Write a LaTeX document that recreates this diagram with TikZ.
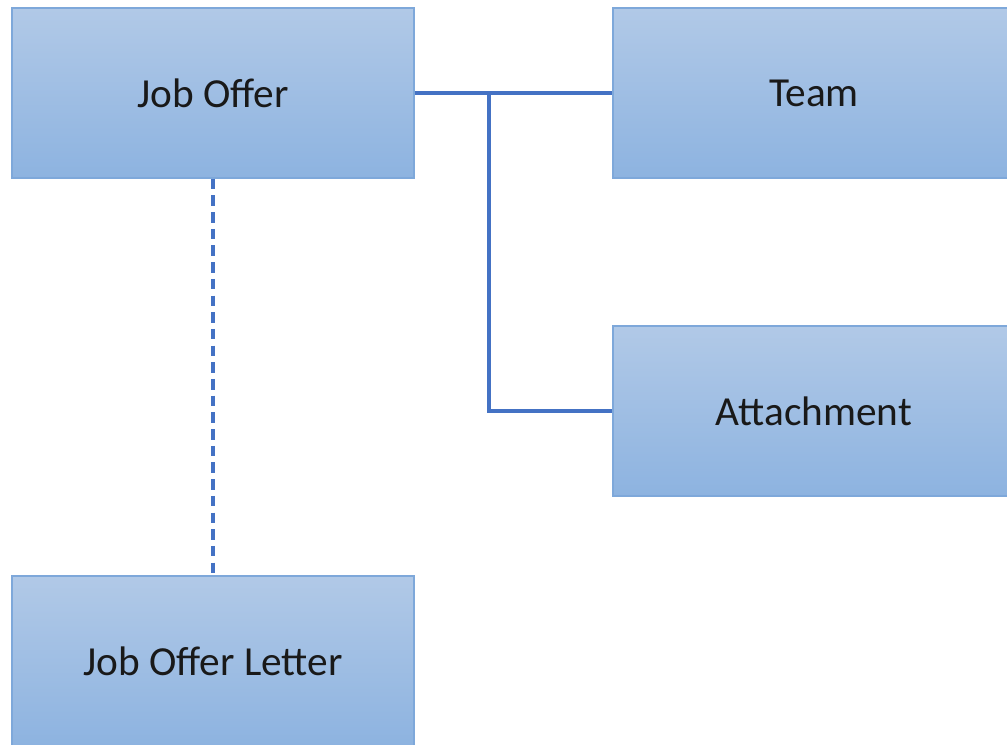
\documentclass[tikz,border=0pt]{standalone}
\usepackage{fontspec}
\setmainfont{Carlito}
\usepackage{tikz}
\usetikzlibrary{calc}
\definecolor{boxtop}{HTML}{B1C9E7}
\definecolor{boxbot}{HTML}{8DB3E0}
\definecolor{boxline}{HTML}{7EA8DA}
\definecolor{linkblue}{HTML}{4472C4}

\tikzset{
  entity/.style={draw=boxline, line width=0.8pt, top color=boxtop, bottom color=boxbot,
    minimum width=8.04cm, minimum height=3.4cm, inner sep=0pt,
    font=\fontsize{23.5}{28}\selectfont, text=black!90},
  link/.style={draw=linkblue, line width=2.2pt},
  dashlink/.style={draw=linkblue, line width=2.2pt, dash pattern=on 6pt off 3.5pt}
}

\begin{document}
\begin{tikzpicture}[x=0.02cm, y=-0.02cm]

%% Frame
\useasboundingbox (0,0) rectangle (1007,744);
\clip (0,0) rectangle (1007,744);
\fill[white] (0,0) rectangle (1007,744);

%% Boxes
\node[entity] (joboffer) at (213,93) {Job Offer};
\node[entity] (team)     at (814,93) {Team};
\node[entity] (attach)   at (814,411) {Attachment};
\node[entity] (letter)   at (213,661) {Job Offer Letter};

%% Connectors
\draw[link] (joboffer.east) -- (team.west);
\coordinate (branch) at ($(joboffer.east)!0.377!(team.west)$);
\draw[link] (branch) |- (attach.west);
\draw[dashlink] (joboffer.south) -- (letter.north);

\end{tikzpicture}
\end{document}
